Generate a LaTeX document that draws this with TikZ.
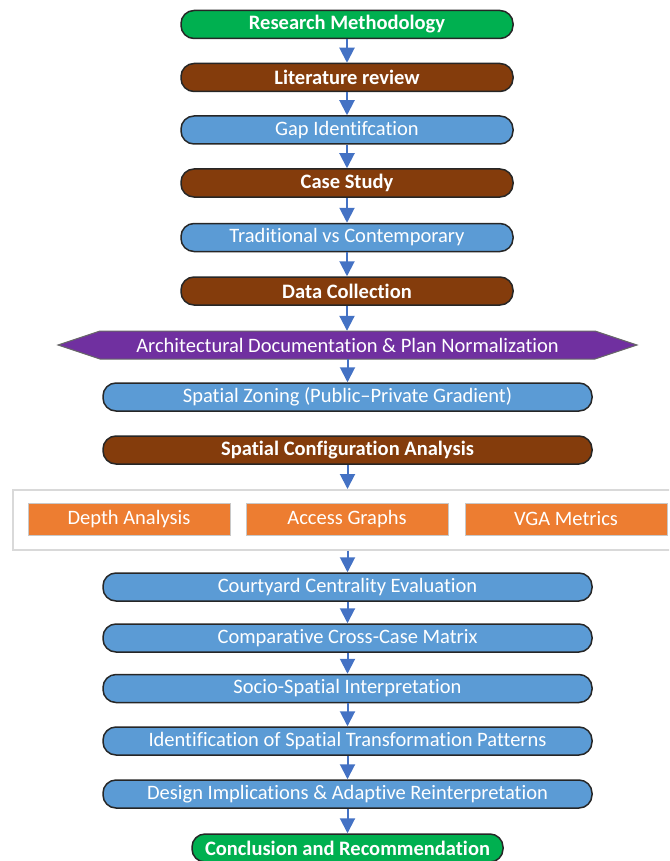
\documentclass[tikz,border=0pt]{standalone}
\usepackage{fontspec}
\setmainfont{Carlito}[Ligatures=NoCommon]
\usetikzlibrary{arrows.meta}
\definecolor{cgreen}{HTML}{00B050}
\definecolor{cbrown}{HTML}{843C0C}
\definecolor{cblue}{HTML}{5B9BD5}
\definecolor{cpurple}{HTML}{7030A0}
\definecolor{corange}{HTML}{ED7D31}
\definecolor{carrow}{HTML}{4472C4}
\definecolor{cedge}{HTML}{262626}
\definecolor{cgrp}{HTML}{D9D9D9}
\definecolor{cobord}{HTML}{C8C8C8}
\begin{document}
\begin{tikzpicture}[x=1pt,y=-1pt,
  pill/.style={draw=cedge, line width=1.5pt, rounded corners=13pt, minimum height=28pt, inner sep=0pt, text=white, font=\fontsize{20.5}{23}\selectfont},
  pillb/.style={pill, font=\bfseries\fontsize{20.5}{23}\selectfont},
  narrow/.style={minimum width=332pt},
  wide/.style={minimum width=489pt},
  greenbox/.style={pillb, fill=cgreen},
  brownbox/.style={pillb, fill=cbrown},
  bluebox/.style={pill, fill=cblue},
  hexfill/.style={fill=cpurple, draw=cedge!70, line width=1pt},
  hextext/.style={text=white, font=\fontsize{20.5}{23}\selectfont, minimum width=495pt, minimum height=28pt, inner sep=0pt},
  grpbox/.style={draw=cgrp, line width=1.5pt, fill=white, minimum width=680pt, minimum height=60pt, inner sep=0pt, anchor=north west},
  orangebox/.style={draw=cobord, line width=1pt, fill=corange, text=white, font=\fontsize{20.5}{23}\selectfont, minimum width=202pt, minimum height=32pt, inner sep=0pt},
  flow/.style={draw=carrow, line width=2pt, -{Triangle[length=15pt,width=15pt]}}
]
\useasboundingbox (0,0) rectangle (669,861);
\clip (0,0) rectangle (669,861);

\node[greenbox, narrow] (rm) at (347,24.5) {Research Methodology};
\node[brownbox, narrow] (lr) at (347,77.5) {Literature review};
\node[bluebox, narrow] (gap) at (347,130) {Gap Identifcation};
\node[brownbox, narrow] (cs) at (347,183) {Case Study};
\node[bluebox, narrow] (tc) at (347,237.5) {Traditional vs Contemporary};
\node[brownbox, narrow] (dc) at (347,291) {Data Collection};

\path[hexfill] (58,345) -- (100,331) -- (595,331) -- (637,345) -- (595,359) -- (100,359) -- cycle;
\node[hextext] (arch) at (347.5,345) {Architectural Documentation \& Plan Normalization};

\node[bluebox, wide] (sz) at (347.5,397) {Spatial Zoning (Public–Private Gradient)};
\node[brownbox, wide] (sca) at (347.5,450) {Spatial Configuration Analysis};

\node[grpbox] (grp) at (12,489) {};
\node[orangebox] (da) at (129,519) {Depth Analysis};
\node[orangebox] (ag) at (347,519) {Access Graphs};
\node[orangebox] (vga) at (566,519) {VGA Metrics};

\node[bluebox, wide] (cce) at (347.5,587) {Courtyard Centrality Evaluation};
\node[bluebox, wide] (ccm) at (347.5,638) {Comparative Cross-Case Matrix};
\node[bluebox, wide] (ssi) at (347.5,688.5) {Socio-Spatial Interpretation};
\node[bluebox, wide] (istp) at (347.5,741) {Identification of Spatial Transformation Patterns};
\node[bluebox, wide] (dia) at (347.5,794) {Design Implications \& Adaptive Reinterpretation};
\node[greenbox, minimum width=311pt] (cr) at (347.5,848) {Conclusion and Recommendation};

\draw[flow] (rm.south) -- (rm.south |- lr.north);
\draw[flow] (lr.south) -- (lr.south |- gap.north);
\draw[flow] (gap.south) -- (gap.south |- cs.north);
\draw[flow] (cs.south) -- (cs.south |- tc.north);
\draw[flow] (tc.south) -- (tc.south |- dc.north);
\draw[flow] (dc.south) -- (dc.south |- arch.north);
\draw[flow] (arch.south) -- (arch.south |- sz.north);
\draw[flow] (sca.south) -- (sca.south |- grp.north);
\draw[flow] (sca.south |- grp.south) -- (sca.south |- cce.north);
\draw[flow] (cce.south) -- (cce.south |- ccm.north);
\draw[flow] (ccm.south) -- (ccm.south |- ssi.north);
\draw[flow] (ssi.south) -- (ssi.south |- istp.north);
\draw[flow] (istp.south) -- (istp.south |- dia.north);
\draw[flow] (dia.south) -- (dia.south |- cr.north);
\end{tikzpicture}
\end{document}
